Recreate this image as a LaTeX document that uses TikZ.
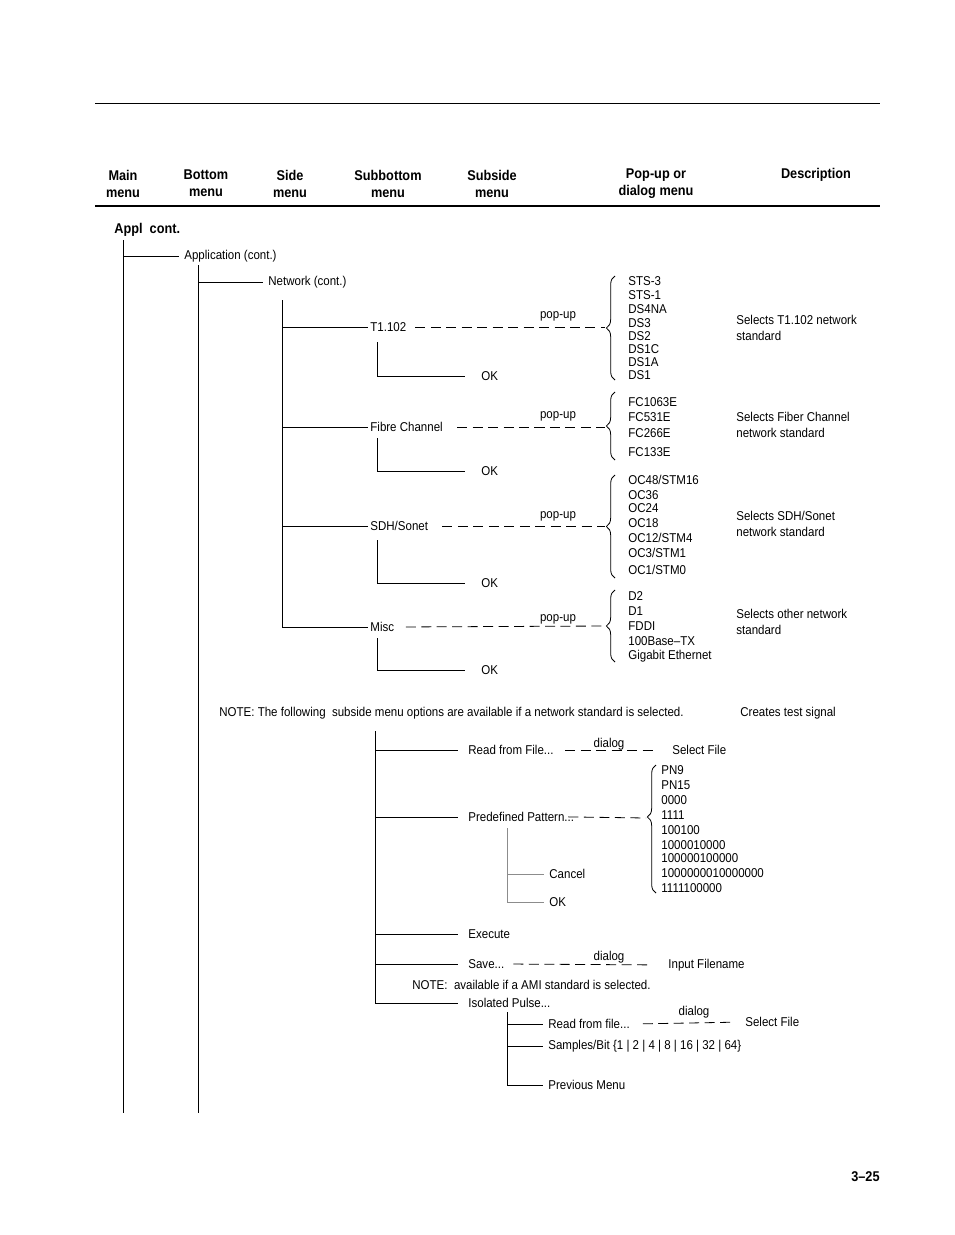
\documentclass[tikz,border=0pt]{standalone}
\usepackage{fontspec}
\setmainfont{Liberation Sans}[FakeStretch=0.9]
\usetikzlibrary{decorations.pathreplacing}
\newcommand{\txtfont}{\fontsize{9.6}{11}\selectfont}
\newcommand{\dscfont}{\fontsize{9.6}{12}\selectfont}
\newcommand{\hdrfont}{\fontsize{10.6}{12.75}\selectfont\bfseries}

\begin{document}
\begin{tikzpicture}[x=0.75pt, y=-0.75pt, line width=0.6pt,
    lbl/.style={anchor=west, inner sep=1.5pt, font=\txtfont},
    item/.style={anchor=west, inner sep=0pt, font=\txtfont},
    dsc/.style={anchor=west, inner sep=0pt, align=left, font=\dscfont},
    tag/.style={inner sep=0pt, font=\txtfont},
    hdr/.style={align=center, inner sep=0pt, font=\hdrfont},
    dashline/.style={dash pattern=on 7.5pt off 4.1pt},
    brc/.style={decorate, decoration={brace, amplitude=6.5pt}},
    soft/.style={draw=black!45}]
    \useasboundingbox (0,0) rectangle (954,1235);

    % Rules and header
    \draw (95,103) -- (880,103);
    \draw[line width=1.5pt] (95,206) -- (880,206);
    \node[hdr] (hmain) at (123,183.5) {Main\\menu};
    \node[hdr] (hbot) at (206,183.5) {Bottom\\menu};
    \node[hdr] (hside) at (290,183.5) {Side\\menu};
    \node[hdr] (hsubb) at (388,183.5) {Subbottom\\menu};
    \node[hdr] (hsubs) at (492,183.5) {Subside\\menu};
    \node[hdr] (hpop) at (656,183.5) {Pop-up or\\dialog menu};
    \node[hdr] (hdesc) at (816,175) {Description};

    % Main and bottom menu
    \node[anchor=west, inner sep=0pt, font=\hdrfont] (appl) at (114,230) {Appl\ \ cont.};
    \coordinate (mainT) at (123,240);
    \coordinate (mainB) at (123,1113);
    \coordinate (botT) at (198,265);
    \coordinate (botB) at (198,1113);
    \draw (mainT) -- (mainB);
    \draw (botT) -- (botB);
    \node[lbl] (app) at (182,256) {Application (cont.)};
    \draw[shorten >=2pt] (app.west -| mainT) -- (app.west);
    \node[lbl] (net) at (266,282) {Network (cont.)};
    \draw[shorten >=2pt] (net.west -| botT) -- (net.west);

    % Side menu
    \coordinate (sideT) at (282,300);
    \node[lbl] (tone) at (368,327) {T1.102};
    \node[lbl] (fibre) at (368,427) {Fibre Channel};
    \node[lbl] (sdh) at (368,526) {SDH/Sonet};
    \node[lbl] (misc) at (368,627) {Misc};
    \draw (sideT) |- (misc.west);
    \foreach \n in {tone,fibre,sdh}
        \draw (\n.west -| sideT) -- (\n.west);

    % T1.102
    \coordinate (tipA) at (605,327);
    \draw[brc] (615,380) -- (615,276);
    \draw[dashline, shorten <=5pt] (tone.east) -- (tipA);
    \node[tag] (popA) at (558,316) {pop-up};
    \foreach \y/\t in {281/STS-3,295/STS-1,309/DS4NA,323/DS3,336/DS2,349/DS1C,362/DS1A,375/DS1}
        \node[item] (a\y) at (628,\y) {\t};
    \node[dsc] (descA) at (736,328) {Selects T1.102 network\\standard};
    \coordinate (okAT) at (377,342);
    \node[lbl] (okA) at (479,376) {OK};
    \draw[shorten >=10.5pt] (okAT) |- (okA.west);

    % Fibre Channel
    \coordinate (tipB) at (605,427);
    \draw[brc] (615,460) -- (615,392);
    \draw[dashline, shorten <=9pt] (fibre.east) -- (tipB);
    \node[tag] (popB) at (558,416) {pop-up};
    \foreach \y/\t in {402/FC1063E,417/FC531E,433/FC266E,452/FC133E}
        \node[item] (b\y) at (628,\y) {\t};
    \node[dsc] (descB) at (736,425) {Selects Fiber Channel\\network standard};
    \coordinate (okBT) at (377,438);
    \node[lbl] (okB) at (479,471) {OK};
    \draw[shorten >=10.5pt] (okBT) |- (okB.west);

    % SDH/Sonet
    \coordinate (tipC) at (605,526);
    \draw[brc] (615,578) -- (615,475);
    \draw[dashline, shorten <=9pt] (sdh.east) -- (tipC);
    \node[tag] (popC) at (558,516) {pop-up};
    \foreach \y/\t in {480/OC48\slash STM16,495/OC36,508/OC24,523/OC18,538/OC12\slash STM4,553/OC3\slash STM1,570/OC1\slash STM0}
        \node[item] (c\y) at (628,\y) {\t};
    \node[dsc] (descC) at (736,524) {Selects SDH/Sonet\\network standard};
    \coordinate (okCT) at (377,540);
    \node[lbl] (okC) at (479,583) {OK};
    \draw[shorten >=10.5pt] (okCT) |- (okC.west);

    % Misc
    \coordinate (tipD) at (605,626);
    \draw[brc] (615,662) -- (615,590);
    \draw[dashline, shorten <=7pt] (misc.east) -- (tipD);
    \node[tag] (popD) at (558,619) {pop-up};
    \foreach \y/\t in {596/D2,611/D1,626/FDDI,641/100Base–TX,656/Gigabit Ethernet}
        \node[item] (d\y) at (628,\y) {\t};
    \node[dsc] (descD) at (736,622) {Selects other network\\standard};
    \coordinate (okDT) at (377,638);
    \node[lbl] (okD) at (479,670) {OK};
    \draw[shorten >=10.5pt] (okDT) |- (okD.west);

    % Note and subside menu
    \node[item] (noteA) at (219,713) {NOTE: The following\ \ subside menu options are available if a network standard is selected.};
    \node[item] (signal) at (740,713) {Creates test signal};
    \coordinate (subT) at (375,731);
    \node[lbl] (rff) at (466,750) {Read from File...};
    \node[lbl] (pdp) at (466,817) {Predefined Pattern...};
    \node[lbl] (exe) at (466,934) {Execute};
    \node[lbl] (save) at (466,964) {Save...};
    \node[lbl] (iso) at (466,1003) {Isolated Pulse...};
    \draw[shorten >=6pt] (subT) |- (iso.west);
    \foreach \n in {rff,pdp,exe,save}
        \draw[shorten >=6pt] (\n.west -| subT) -- (\n.west);
    \node[item] (noteB) at (412,985) {NOTE:\ \ available if a AMI standard is selected.};

    % Read from File
    \node[item] (selA) at (672,750) {Select File};
    \draw[dashline, shorten <=7pt, shorten >=14pt] (rff.east) -- (selA.west);
    \node[tag] (dlgA) at (609,744) {dialog};

    % Predefined Pattern
    \coordinate (tipE) at (646,818);
    \draw[decorate, decoration={brace, amplitude=6.5pt, aspect=0.594}] (656,893) -- (656,765);
    \draw[dashline, shorten <=-6pt] (pdp.east) -- (tipE);
    \foreach \y/\t in {770/PN9,785/PN15,800/0000,815/1111,830/100100,845/1000010000,858/100000100000,873/1000000010000000,888/1111100000}
        \node[item] (e\y) at (661,\y) {\t};
    \coordinate (pdpT) at (507,828);
    \node[lbl] (cancel) at (547,874) {Cancel};
    \node[lbl] (okE) at (547,902) {OK};
    \draw[soft, shorten >=2pt] (pdpT) |- (okE.west);
    \draw[soft, shorten >=2pt] (cancel.west -| pdpT) -- (cancel.west);

    % Save
    \node[item] (fname) at (668,965) {Input Filename};
    \draw[dashline, shorten <=5pt, shorten >=12pt] (save.east) -- (fname.west);
    \node[tag] (dlgB) at (609,957) {dialog};

    % Isolated Pulse
    \coordinate (isoT) at (507,1012);
    \node[lbl] (rfs) at (546,1024) {Read from file...};
    \node[lbl] (spb) at (546,1046) {Samples/Bit \{1 | 2 | 4 | 8 | 16 | 32 | 64\}};
    \node[lbl] (prev) at (546,1085) {Previous Menu};
    \draw[shorten >=2pt] (isoT) |- (prev.west);
    \foreach \n in {rfs,spb}
        \draw[shorten >=2pt] (\n.west -| isoT) -- (\n.west);
    \node[item] (selB) at (745,1022) {Select File};
    \draw[dashline, shorten <=8pt, shorten >=11pt] (rfs.east) -- (selB.west);
    \node[tag] (dlgC) at (694,1012) {dialog};

    % Page number
    \node[anchor=east, inner sep=0pt, font=\hdrfont] (pgno) at (880,1177) {3–25};
\end{tikzpicture}
\end{document}
